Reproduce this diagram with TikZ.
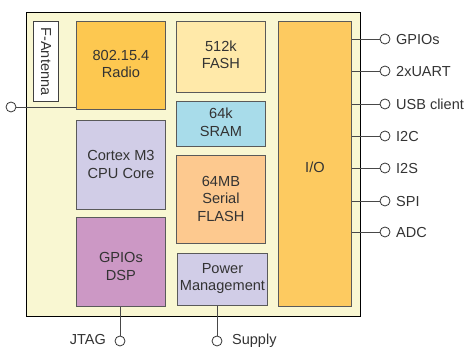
\documentclass[tikz,border=0pt]{standalone}
\usepackage{fontspec}
\setmainfont{Liberation Sans}
\definecolor{outerfill}{HTML}{F9F7D2}
\definecolor{radiofill}{HTML}{FDC850}
\definecolor{fashfill}{HTML}{FFE9A9}
\definecolor{sramfill}{HTML}{A8DCEA}
\definecolor{sflashfill}{HTML}{FDC98F}
\definecolor{cpufill}{HTML}{D1CDE7}
\definecolor{dspfill}{HTML}{CC98C5}
\definecolor{iofill}{HTML}{FDCA60}
\definecolor{txt}{HTML}{333333}
\definecolor{edge}{HTML}{5A5A5A}
\tikzset{
  blk/.style={draw=edge, line width=0.9pt, anchor=north west, inner sep=0pt},
  btxt/.style={align=center, inner sep=0pt, text=txt, text depth=0pt,
    font=\fontsize{14.6}{17.5}\selectfont},
  wire/.style={draw=edge!80!black, line width=0.9pt},
  pin/.style={circle, draw=black!80, fill=white, line width=0.8pt, minimum size=10pt, inner sep=0pt},
  lbl/.style={text=txt, font=\fontsize{14.5}{17}\selectfont, inner sep=0pt}
}
\begin{document}
\begin{tikzpicture}[x=1pt,y=-1pt]
\useasboundingbox (0,0) rectangle (464,347);
% outer chip
\node[draw=black, line width=1.3pt, fill=outerfill, anchor=north west, inner sep=0pt,
  minimum width=334pt, minimum height=304pt] (chip) at (26,12) {};
% antenna
\node[blk, draw=black!75, fill=white, minimum width=25pt, minimum height=80pt] (ant) at (33,21) {};
\node[lbl, rotate=-90] (antlbl) at (ant.center) {F-Antenna};
% left column
\node[blk, fill=radiofill, minimum width=89pt, minimum height=88pt] (radio) at (76,21) {};
\node[btxt] (radiot) at ([yshift=1.5pt]radio.center) {802.15.4\\Radio};
\node[blk, fill=cpufill, minimum width=89pt, minimum height=89pt] (cpu) at (76,120) {};
\node[btxt] (cput) at ([yshift=0.5pt]cpu.center) {Cortex M3\\CPU Core};
\node[blk, fill=dspfill, minimum width=89pt, minimum height=89pt] (dsp) at (76,217) {};
\node[btxt] (dspt) at ([yshift=-4.5pt]dsp.center) {GPIOs\\DSP};
% middle column
\node[blk, fill=fashfill, minimum width=89pt, minimum height=71pt] (fash) at (176,21) {};
\node[btxt] (fasht) at ([yshift=2pt]fash.center) {512k\\FASH};
\node[blk, fill=sramfill, minimum width=89pt, minimum height=45pt] (sram) at (176,101) {};
\node[btxt] (sramt) at ([yshift=1.5pt]sram.center) {64k\\SRAM};
\node[blk, fill=sflashfill, minimum width=89pt, minimum height=88pt] (sflash) at (176,155) {};
\node[btxt] (sflasht) at ([yshift=1pt]sflash.center) {64MB\\Serial\\FLASH};
\node[blk, fill=cpufill, minimum width=90pt, minimum height=52pt] (pwr) at (177,253) {};
\node[btxt] (pwrt) at ([yshift=2.5pt]pwr.center) {Power\\Management};
% I/O
\node[blk, fill=iofill, minimum width=73pt, minimum height=285pt] (io) at (278,21) {};
\node[btxt] (iot) at ([yshift=-3.5pt]io.center) {I/O};
% antenna pin
\node[pin] (apin) at (11,107) {};
\draw[wire] (apin) -- (apin -| radio.west);
% bottom pins
\node[pin] (jpin) at (120,341) {};
\draw[wire] (jpin) -- (jpin |- dsp.south);
\node[lbl, anchor=base east] (jtag) at (106,344.5) {JTAG};
\node[pin] (spin) at (217,341) {};
\draw[wire] (spin) -- (spin |- pwr.south);
\node[lbl, anchor=base west] (supply) at (232,344.5) {Supply};
% right pins
\foreach \nm/\yy/\tx in {p1/39/GPIOs, p2/71/2xUART, p3/104/USB client, p4/136/I2C, p5/168/I2S, p6/201/SPI, p7/232/ADC}{
  \node[pin] (\nm) at (385,\yy) {};
  \draw[wire] (\nm) -- (\nm -| io.east);
  \node[lbl, anchor=west, text depth=0pt] (\nm l) at (396,\yy) {\tx};
}
\end{tikzpicture}
\end{document}
